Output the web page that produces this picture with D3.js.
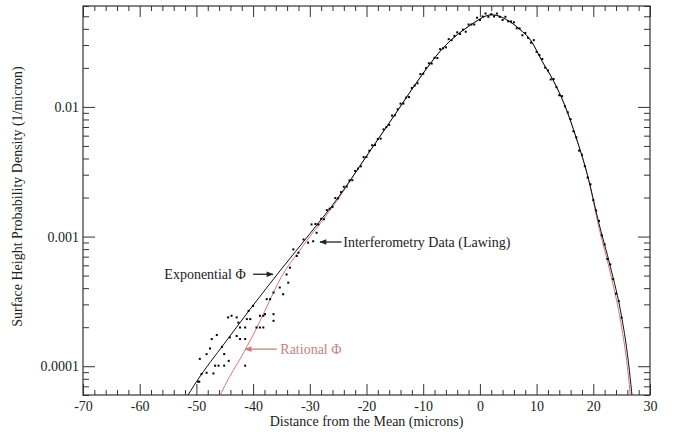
<!DOCTYPE html>
<html>
<head>
<meta charset="utf-8">
<script src="https://cdn.jsdelivr.net/npm/d3@7"></script>
<style>
  body { margin: 0; background: #fff; }
  text { font-family: "Liberation Serif", "DejaVu Serif", serif; fill: #222; }
</style>
</head>
<body>
<div id="chart"></div>
<script>
// exponential phi curve (microns, 1/micron)
const expX = [-52, -50, -45, -40, -35, -30, -25, -20, -15, -10, -7, -5, -3, -1, 1, 2, 3, 5, 7, 9, 11, 13, 15, 17, 19, 21, 23, 25, 26, 27]
const expY = [5.50e-5, 7.59e-5, 1.51e-4, 2.95e-4, 5.62e-4, 1.05e-3, 2.00e-3, 4.17e-3, 8.71e-3, 1.82e-2, 2.69e-2, 3.31e-2, 3.89e-2, 4.47e-2, 5.01e-2, 5.13e-2, 5.07e-2, 4.62e-2, 3.98e-2, 3.24e-2, 2.24e-2, 1.58e-2, 1.02e-2, 5.75e-3, 2.95e-3, 1.26e-3, 5.89e-4, 2.40e-4, 1.26e-4, 5.01e-5]

// rational phi curve
const ratX = [-46.2, -45, -42, -40, -38, -35, -32, -30, -28, -25, -20, -15, -10, -7, -5, -3, -1, 1, 2, 3, 5, 7, 9, 11, 13, 15, 17, 19, 21, 23, 25, 26, 26.7]
const ratY = [5.50e-5, 7.08e-5, 1.20e-4, 1.74e-4, 2.63e-4, 4.90e-4, 7.59e-4, 1.00e-3, 1.29e-3, 1.95e-3, 4.17e-3, 8.71e-3, 1.82e-2, 2.69e-2, 3.31e-2, 3.89e-2, 4.47e-2, 5.01e-2, 5.13e-2, 5.07e-2, 4.62e-2, 3.98e-2, 3.24e-2, 2.24e-2, 1.58e-2, 1.02e-2, 5.75e-3, 2.95e-3, 1.17e-3, 5.25e-4, 2.00e-4, 1.00e-4, 5.01e-5]

// interferometry data, sparse tail
const tailX = [-49.7, -49.1, -48.2, -47.0, -49.4, -47.6, -47.3, -45.5, -45.1, -44.3, -46.7, -46.1, -45.1, -44.1, -44.4, -43.8, -42.9, -42.6, -42.3, -41.4, -42.3, -41.4, -42.9, -41.1, -40.5, -40.8, -40.0, -38.8, -38.2, -37.9, -39.4, -38.8, -38.2, -36.4, -36.4, -41.4, -37.6, -37.0, -36.4, -34.7, -33.8, -35.3, -34.1, -33.5, -32.9, -32.3, -32.0, -31.1, -30.3, -29.4, -28.8, -29.7, -46.4, -48.2, -49.5]
const tailY = [7.6e-5, 8.7e-5, 8.9e-5, 8.8e-5, 1.14e-4, 1.37e-4, 1.62e-4, 1.41e-4, 1.24e-4, 1.10e-4, 1.01e-4, 1.01e-4, 1.01e-4, 1.67e-4, 2.38e-4, 2.45e-4, 2.38e-4, 2.17e-4, 1.99e-4, 1.99e-4, 1.62e-4, 1.62e-4, 1.71e-4, 2.31e-4, 2.31e-4, 2.67e-4, 2.92e-4, 2.45e-4, 2.45e-4, 2.52e-4, 1.99e-4, 1.99e-4, 1.99e-4, 2.52e-4, 2.24e-4, 1.01e-4, 3.29e-4, 3.29e-4, 3.70e-4, 3.59e-4, 4.41e-4, 4.05e-4, 5.10e-4, 5.75e-4, 7.96e-4, 7.08e-4, 7.50e-4, 9.50e-4, 8.97e-4, 9.20e-4, 1.07e-3, 1.24e-3, 1.74e-4, 1.24e-4, 7.6e-5]

// interferometry data, dense part (every 0.5 micron from -29 to 25)
const denseX = d3.range(-29, 25.01, 0.5)
const denseY = [
  1.25e-3, 1.24e-3, 1.37e-3, 1.36e-3, 1.60e-3, 1.64e-3, 1.69e-3, 1.98e-3, 1.97e-3, 2.20e-3,
  2.42e-3, 2.43e-3, 2.71e-3, 2.72e-3, 3.21e-3, 3.34e-3, 3.48e-3, 4.10e-3, 4.12e-3, 4.59e-3,
  5.06e-3, 5.08e-3, 5.66e-3, 5.69e-3, 6.71e-3, 6.98e-3, 7.26e-3, 8.57e-3, 8.61e-3, 9.59e-3,
  1.06e-2, 1.06e-2, 1.18e-2, 1.19e-2, 1.40e-2, 1.46e-2, 1.52e-2, 1.79e-2, 1.80e-2, 1.99e-2,
  2.17e-2, 2.16e-2, 2.39e-2, 2.38e-2, 2.79e-2, 2.83e-2, 2.88e-2, 3.33e-2, 3.27e-2, 3.53e-2,
  3.76e-2, 3.65e-2, 3.94e-2, 3.80e-2, 4.32e-2, 4.32e-2, 4.32e-2, 4.87e-2, 4.68e-2, 4.98e-2,
  5.25e-2, 4.95e-2, 5.19e-2, 4.98e-2, 5.25e-2, 4.95e-2, 4.68e-2, 4.95e-2, 4.57e-2, 4.56e-2,
  4.49e-2, 4.04e-2, 4.03e-2, 3.57e-2, 3.72e-2, 3.41e-2, 3.13e-2, 3.27e-2, 2.66e-2, 2.51e-2,
  2.34e-2, 2.01e-2, 1.91e-2, 1.63e-2, 1.64e-2, 1.42e-2, 1.23e-2, 1.21e-2, 1.01e-2, 9.07e-3,
  8.04e-3, 6.49e-3, 5.82e-3, 4.60e-3, 4.27e-3, 3.49e-3, 2.85e-3, 2.53e-3, 1.91e-3, 1.59e-3,
  1.32e-3, 1.02e-3, 8.71e-4, 6.72e-4, 6.10e-4, 4.70e-4, 3.63e-4, 3.18e-4, 2.37e-4
]

const xMajor = [-70, -60, -50, -40, -30, -20, -10, 0, 10, 20, 30]
const xLabels = ["-70", "-60", "-50", "-40", "-30", "-20", "-10", "0", "10", "20", "30"]
const yMajor = [0.0001, 0.001, 0.01]
const yLabels = ["0.0001", "0.001", "0.01"]

const W = 682, H = 434
const m = {left: 83, right: 650, top: 6, bottom: 395}
const pink = "#d27878"

const svg = d3.select("#chart").append("svg")
    .attr("width", W)
    .attr("height", H)

const x = d3.scaleLinear().domain([-70, 30]).range([m.left, m.right])
const y = d3.scaleLog().domain([6e-5, 0.06]).range([m.bottom, m.top])

const defs = svg.append("defs")
defs.append("clipPath").attr("id", "plot")
    .append("rect")
    .attr("x", m.left).attr("y", m.top)
    .attr("width", m.right - m.left).attr("height", m.bottom - m.top)

// minor tick values
let xMinor = d3.range(-70, 30.01, 2).filter(v => v % 10 != 0)
let yMinor = []
for (let p = -5; p <= -2; p++) {
    for (let k = 2; k <= 9; k++) {
        let v = k * Math.pow(10, p)
        if (v >= 6e-5 && v <= 0.06) yMinor.push(v)
    }
}

function styleAxis(g) {
    g.select(".domain").remove()
    g.selectAll("line").attr("stroke", "#333")
    g.selectAll("text").attr("font-size", 14).attr("font-family", "Liberation Serif").attr("fill", "#222")
}

// bottom axis
svg.append("g").attr("transform", `translate(0,${m.bottom})`)
    .call(d3.axisBottom(x).tickValues(xMajor).tickSizeInner(-11).tickSizeOuter(0).tickPadding(6)
        .tickFormat((d, i) => xLabels[i]))
    .call(styleAxis)
svg.append("g").attr("transform", `translate(0,${m.bottom})`)
    .call(d3.axisBottom(x).tickValues(xMinor).tickSizeInner(-5).tickSizeOuter(0).tickFormat(""))
    .call(styleAxis)
// top axis
svg.append("g").attr("transform", `translate(0,${m.top})`)
    .call(d3.axisTop(x).tickValues(xMajor).tickSizeInner(-11).tickSizeOuter(0).tickFormat(""))
    .call(styleAxis)
svg.append("g").attr("transform", `translate(0,${m.top})`)
    .call(d3.axisTop(x).tickValues(xMinor).tickSizeInner(-5).tickSizeOuter(0).tickFormat(""))
    .call(styleAxis)
// left axis
svg.append("g").attr("transform", `translate(${m.left},0)`)
    .call(d3.axisLeft(y).tickValues(yMajor).tickSizeInner(-12).tickSizeOuter(0).tickPadding(4)
        .tickFormat((d, i) => yLabels[i]))
    .call(styleAxis)
svg.append("g").attr("transform", `translate(${m.left},0)`)
    .call(d3.axisLeft(y).tickValues(yMinor).tickSizeInner(-6).tickSizeOuter(0).tickFormat(""))
    .call(styleAxis)
// right axis
svg.append("g").attr("transform", `translate(${m.right},0)`)
    .call(d3.axisRight(y).tickValues(yMajor).tickSizeInner(-12).tickSizeOuter(0).tickFormat(""))
    .call(styleAxis)
svg.append("g").attr("transform", `translate(${m.right},0)`)
    .call(d3.axisRight(y).tickValues(yMinor).tickSizeInner(-6).tickSizeOuter(0).tickFormat(""))
    .call(styleAxis)

// frame
svg.append("rect")
    .attr("x", m.left).attr("y", m.top)
    .attr("width", m.right - m.left).attr("height", m.bottom - m.top)
    .attr("fill", "none")
    .attr("stroke", "#333")
    .attr("stroke-width", 1.2)

// curves
let line = d3.line()
    .x(d => x(d[0]))
    .y(d => y(d[1]))
    .curve(d3.curveMonotoneX)

let plot = svg.append("g").attr("clip-path", "url(#plot)")

plot.append("path")
    .datum(ratX.map((v, i) => [v, ratY[i]]))
    .attr("d", line)
    .attr("fill", "none")
    .attr("stroke", pink)
    .attr("stroke-width", 1)

plot.append("path")
    .datum(expX.map((v, i) => [v, expY[i]]))
    .attr("d", line)
    .attr("fill", "none")
    .attr("stroke", "#111")
    .attr("stroke-width", 1)

// data points
let pts = tailX.map((v, i) => [v, tailY[i]])
    .concat(denseX.map((v, i) => [v, denseY[i]]))

plot.selectAll("rect.pt")
    .data(pts)
    .enter()
    .append("rect")
    .attr("class", "pt")
    .attr("x", d => x(d[0]) - 1)
    .attr("y", d => y(d[1]) - 1)
    .attr("width", 2)
    .attr("height", 2)
    .attr("fill", "#000")

// arrow heads
function addMarker(id, color) {
    defs.append("marker")
        .attr("id", id)
        .attr("viewBox", "0 0 10 10")
        .attr("refX", 9).attr("refY", 5)
        .attr("markerWidth", 9).attr("markerHeight", 7)
        .attr("markerUnits", "userSpaceOnUse")
        .attr("orient", "auto")
        .append("path")
        .attr("d", "M0,1 L10,5 L0,9 Z")
        .attr("fill", color)
}
addMarker("arrowBlack", "#222")
addMarker("arrowPink", pink)

// annotations (data coordinates)
const notes = [
    {text: "Interferometry Data (Lawing)", tx: -24.1, from: -24.4, to: -28.2, yv: 9.08e-4, anchor: "start", color: "#222", marker: "arrowBlack"},
    {text: "Exponential \u03A6", tx: -41.3, from: -40.0, to: -36.5, yv: 5.12e-4, anchor: "end", color: "#222", marker: "arrowBlack"},
    {text: "Rational \u03A6", tx: -35.2, from: -35.8, to: -41.4, yv: 1.355e-4, anchor: "start", color: "#c58282", marker: "arrowPink"}
]

notes.forEach(function (n) {
    svg.append("line")
        .attr("x1", x(n.from)).attr("x2", x(n.to))
        .attr("y1", y(n.yv)).attr("y2", y(n.yv))
        .attr("stroke", n.color)
        .attr("stroke-width", 1.3)
        .attr("marker-end", `url(#${n.marker})`)
    svg.append("text")
        .attr("x", x(n.tx))
        .attr("y", y(n.yv))
        .attr("dy", "0.35em")
        .attr("text-anchor", n.anchor)
        .attr("font-size", 14)
        .style("fill", n.color)
        .text(n.text)
})

// axis titles
svg.append("text")
    .attr("x", (m.left + m.right) / 2)
    .attr("y", 426)
    .attr("text-anchor", "middle")
    .attr("font-size", 14)
    .text("Distance from the Mean (microns)")

svg.append("text")
    .attr("transform", `translate(22,${(m.top + m.bottom) / 2 - 4}) rotate(-90)`)
    .attr("text-anchor", "middle")
    .attr("font-size", 14)
    .text("Surface Height Probability Density (1/micron)")
</script>
</body>
</html>
